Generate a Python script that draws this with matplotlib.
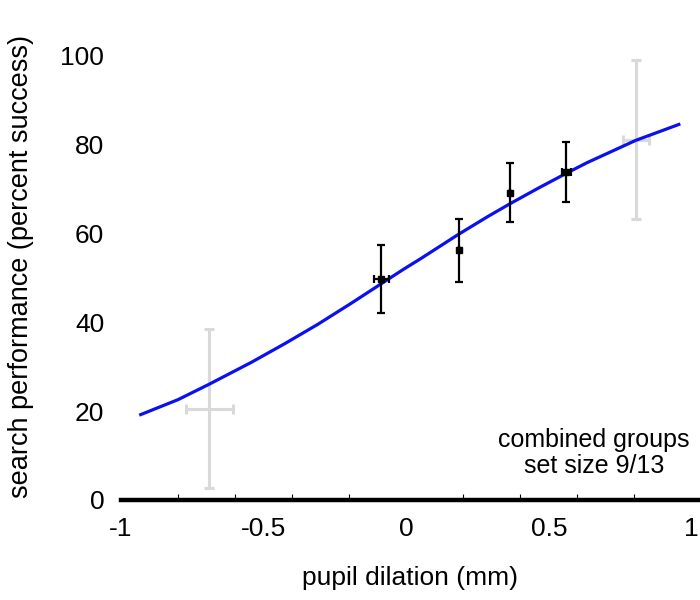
import matplotlib
matplotlib.use("Agg")
import matplotlib.pyplot as plt
from matplotlib.ticker import FixedLocator, FixedFormatter, MultipleLocator

plt.rcParams['font.family'] = ['Liberation Sans', 'DejaVu Sans']
plt.rcParams['axes.unicode_minus'] = False

# fitted curve
curve_x = [-0.936, -0.80, -0.69, -0.543, -0.426, -0.309, -0.193, -0.090, -0.006, 0.052,
           0.180, 0.285, 0.366, 0.465, 0.565, 0.635, 0.805, 0.961]
curve_y = [19.1, 22.6, 26.1, 31.0, 35.2, 39.6, 44.3, 48.6, 52.1, 54.4,
           59.7, 63.8, 66.8, 70.3, 73.7, 76.0, 81.0, 84.7]

# black data points
pts_x = [-0.088, 0.184, 0.363, 0.561]
pts_y = [49.8, 56.2, 69.2, 73.9]
pts_yerr = [7.6, 7.1, 6.7, 6.7]
pts_xerr = [0.026, 0.0, 0.0, 0.016]

# grey (outlying) data points
grey_x = [-0.690, 0.806]
grey_y = [20.6, 81.1]
grey_yerr = [17.8, 17.9]
grey_xerr = [0.083, 0.046]

xtick_vals = [-1, -0.5, 0, 0.5, 1]
xtick_labels = ['-1', '-0.5', '0', '0.5', '1']
ytick_vals = [0, 20, 40, 60, 80, 100]
ytick_labels = ['0', '20', '40', '60', '80', '100']

fig = plt.figure(figsize=(7, 6), dpi=100)
ax = fig.add_axes([121 / 700, 0.1667, 579 / 700, 0.777])

ax.errorbar(grey_x, grey_y, yerr=grey_yerr, xerr=grey_xerr, fmt='none',
            ecolor='#d9d9d9', elinewidth=2.2, capsize=3.5, capthick=2.2, zorder=2)
ax.plot(curve_x, curve_y, color='#0a10f0', lw=2.3, zorder=3,
        solid_capstyle='butt', solid_joinstyle='round')
ax.errorbar(pts_x, pts_y, yerr=pts_yerr, xerr=pts_xerr, fmt='s', color='black',
            ms=4, elinewidth=1.6, capsize=3.2, capthick=1.6, zorder=4)

ax.set_xlim(-1, 1.03)
ax.set_ylim(0, 105)

for s in ['top', 'right', 'left']:
    ax.spines[s].set_visible(False)
ax.spines['bottom'].set_linewidth(3.2)
ax.spines['bottom'].set_zorder(5)

ax.xaxis.set_major_locator(FixedLocator(xtick_vals))
ax.xaxis.set_major_formatter(FixedFormatter(xtick_labels))
ax.xaxis.set_minor_locator(MultipleLocator(0.2))
ax.tick_params(axis='x', which='major', length=0, pad=12, labelsize=19)
ax.tick_params(axis='x', which='minor', direction='in', length=4, width=0.8)

ax.yaxis.set_major_locator(FixedLocator(ytick_vals))
ax.yaxis.set_major_formatter(FixedFormatter(ytick_labels))
ax.tick_params(axis='y', length=0, pad=12, labelsize=19)

ax.set_xlabel('pupil dilation (mm)', fontsize=19, labelpad=18)
ax.set_ylabel('search performance (percent success)', fontsize=19.5, labelpad=19)

ax.text(0.659, 10.6, 'combined groups\nset size 9/13', ha='center', va='center',
        fontsize=18, linespacing=1.1)

fig.savefig('out.png', dpi=100)
